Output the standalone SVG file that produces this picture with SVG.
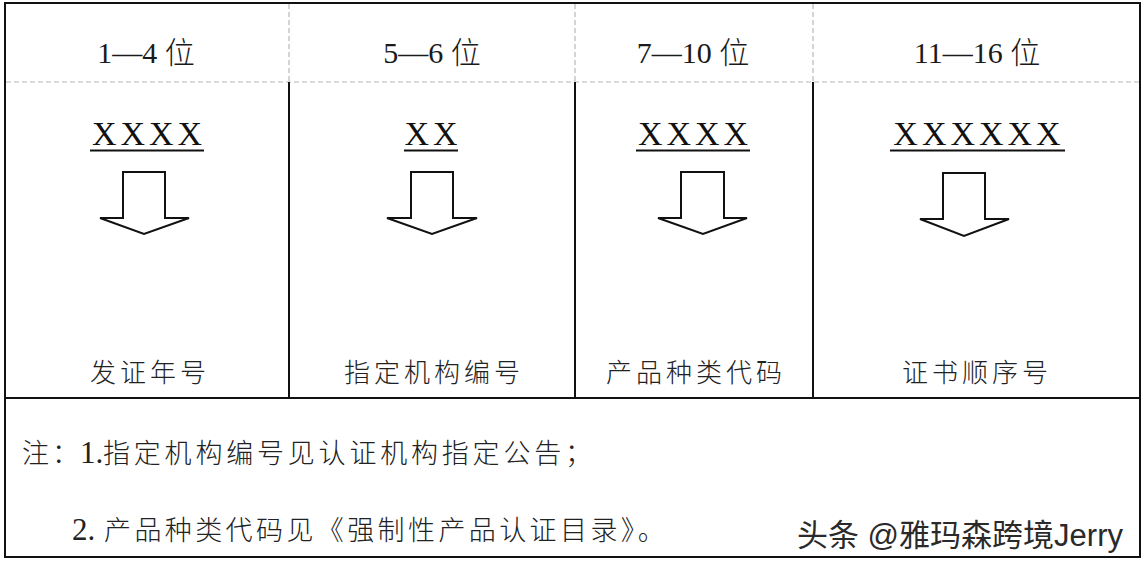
<svg xmlns="http://www.w3.org/2000/svg" width="1144" height="566" viewBox="0 0 1144 566">
<style>
.solid{stroke:#111;stroke-width:2;fill:none}
.dash{stroke:#b8b8b8;stroke-width:1.2;stroke-dasharray:5 3;fill:none}
.hdr{font-family:"Liberation Serif","Noto Sans CJK SC",serif;font-size:30px;fill:#1a1a1a;text-anchor:middle}
.cjk{font-family:"Noto Sans CJK SC",sans-serif;font-weight:300}
.xx{font-family:"Liberation Serif",serif;font-size:34px;fill:#111;text-anchor:middle;letter-spacing:4px}
.ul{stroke:#111;stroke-width:2}
.arrow{fill:#fff;stroke:#111;stroke-width:2;stroke-linejoin:miter}
.lbl{font-family:"Noto Sans CJK SC",sans-serif;font-weight:300;font-size:26px;fill:#222;text-anchor:middle;letter-spacing:4px}
.note{font-family:"Noto Sans CJK SC",sans-serif;font-weight:300;font-size:27px;fill:#222}
.num{font-family:"Liberation Serif",serif;font-weight:400;font-size:31px;letter-spacing:0}
.wm{font-family:"Liberation Sans","Noto Sans CJK SC",sans-serif;font-size:31px;fill:#2a2a2a;stroke:#fff;stroke-width:0.6;paint-order:stroke}
</style>
<rect width="1144" height="566" fill="#fff"/>
<g id="table">
<rect class="solid" x="5" y="3" width="1135" height="554"/>
<line class="dash" x1="6" y1="82" x2="1139" y2="82"/>
<line class="dash" x1="289" y1="4" x2="289" y2="82"/>
<line class="dash" x1="575" y1="4" x2="575" y2="82"/>
<line class="dash" x1="813" y1="4" x2="813" y2="82"/>
<line class="solid" x1="289" y1="82" x2="289" y2="398"/>
<line class="solid" x1="575" y1="82" x2="575" y2="398"/>
<line class="solid" x1="813" y1="82" x2="813" y2="398"/>
<line class="solid" x1="5" y1="398" x2="1140" y2="398"/>
</g>
<g id="col1">
<text class="hdr" x="146" y="63">1—4 <tspan class="cjk">位</tspan></text>
<text class="xx" x="149" y="145">XXXX</text>
<line class="ul" x1="90" y1="150.5" x2="204" y2="150.5"/>
<text class="lbl" x="150" y="382">发证年号</text>
</g>
<g id="col2">
<text class="hdr" x="432" y="63">5—6 <tspan class="cjk">位</tspan></text>
<text class="xx" x="433" y="145">XX</text>
<line class="ul" x1="404" y1="150.5" x2="458" y2="150.5"/>
<text class="lbl" x="434" y="382">指定机构编号</text>
</g>
<g id="col3">
<text class="hdr" x="693" y="63">7—10 <tspan class="cjk">位</tspan></text>
<text class="xx" x="695" y="145">XXXX</text>
<line class="ul" x1="636" y1="150.5" x2="750" y2="150.5"/>
<text class="lbl" x="696" y="382">产品种类代码</text>
</g>
<g id="col4">
<text class="hdr" x="977" y="63">11—16 <tspan class="cjk">位</tspan></text>
<text class="xx" x="979" y="145">XXXXXX</text>
<line class="ul" x1="890" y1="150.5" x2="1065" y2="150.5"/>
<text class="lbl" x="977" y="382">证书顺序号</text>
</g>
<g id="connectors">
<path class="arrow" d="M123,172 H165 V218 H189 L144,234 L100,218 H123 Z"/>
<path class="arrow" d="M411,172 H453 V218 H477 L432,234 L387,218 H411 Z"/>
<path class="arrow" d="M681,172 H724 V218 H747 L703,234 L658,218 H681 Z"/>
<path class="arrow" d="M943,173 H985 V219 H1009 L964,236 L920,219 H943 Z"/>
</g>
<g id="notes">
<text class="note" y="463"><tspan x="22" letter-spacing="3">注：</tspan><tspan class="num" x="80">1.</tspan><tspan x="103" letter-spacing="3.8">指定机构编号见认证机构指定公告；</tspan></text>
<text class="note" y="540"><tspan class="num" x="72">2.</tspan><tspan x="104" letter-spacing="3.4">产品种类代码见《强制性产品认证目录》。</tspan></text>
</g>
<g id="watermark">
<text class="wm" x="797" y="546">头条 @雅玛森跨境Jerry</text>
</g>
</svg>
